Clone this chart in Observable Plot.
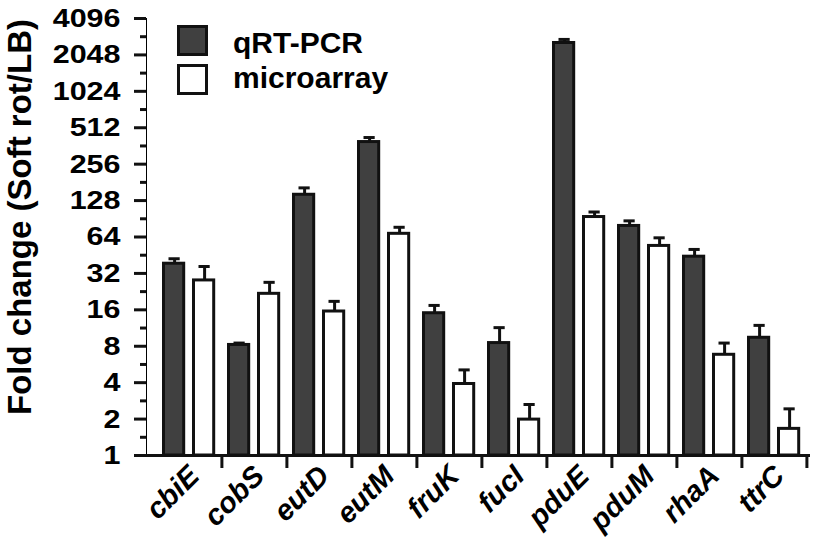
<!DOCTYPE html>
<html>
<head>
<meta charset="utf-8">
<script src="https://cdn.jsdelivr.net/npm/d3@7"></script>
<script src="https://cdn.jsdelivr.net/npm/@observablehq/plot@0.6"></script>
<style>
  body { margin: 0; background: #fff; }
  #wrap { position: relative; width: 814px; height: 544px; font-family: "Liberation Sans", Arial, sans-serif; font-weight: bold; color: #000; }
  #chart svg [aria-label^="y-axis"] text { font-size: 26.5px; }
  #chart svg [aria-label^="y-axis"] line,
  #chart svg [aria-label^="y-axis"] path,
  #chart svg [aria-label^="x-axis"] line,
  #chart svg [aria-label^="x-axis"] path { stroke-width: 3px; stroke: #111; }
  .sw { position: absolute; left: 177px; width: 25px; height: 25px; border: 3px solid #111; }
  .lt { position: absolute; left: 233px; font-size: 30px; line-height: 30px; white-space: nowrap; }
</style>
</head>
<body>
<div id="wrap">
  <div id="chart"></div>
  <div id="legend"></div>
</div>
<script>
// ---- data ----
const genes = ["cbiE", "cobS", "eutD", "eutM", "fruK", "fucI", "pduE", "pduM", "rhaA", "ttrC"];
const seriesNames = ["qRT-PCR", "microarray"];
const qrtValues = [38.5, 8.2, 143, 390, 15, 8.5, 2570, 79, 44, 9.4];
const qrtErrors = [3.8, 0.3, 20, 35, 2.4, 2.9, 180, 8, 6.5, 2.5];
const microValues = [28, 21.7, 15.5, 68, 3.9, 1.98, 93.6, 54, 6.8, 1.66];
const microErrors = [8.5, 5.3, 3.3, 9, 1.2, 0.66, 9.4, 9, 1.7, 0.77];
const yTicks = [1, 2, 4, 8, 16, 32, 64, 128, 256, 512, 1024, 2048, 4096];
const yTitle = "Fold change (Soft rot/LB)";

// ---- table ----
const table = genes.map((g, i) => ({
  gene: g,
  qrt: qrtValues[i], qrtHi: qrtValues[i] + qrtErrors[i],
  micro: microValues[i], microHi: microValues[i] + microErrors[i]
}));
const minorTicks = yTicks.slice(1).map(t => t / Math.SQRT2);

const W = 814, H = 544, ML = 146, MR = 4, MT = 18, MB = 89;
const X0 = 152, X1 = 810;
const step = (X1 - X0) / genes.length;
const dark = "#404040", ink = "#111";

const plot = Plot.plot({
  width: W, height: H,
  marginLeft: ML, marginRight: MR, marginTop: MT, marginBottom: MB,
  style: { fontFamily: "'Liberation Sans', Arial, sans-serif", fontWeight: "bold", fontSize: "28px", color: "#000", background: "transparent" },
  x: { type: "band", domain: genes, range: [X0, X1], padding: 0, tickSize: 13, tickFormat: () => "", label: null },
  y: { type: "log", base: 2, domain: [1, 4096], ticks: yTicks, tickSize: 12, tickPadding: 14, tickFormat: d => String(d), label: null, line: true },
  marks: [
    Plot.ruleY(minorTicks, { y: d => d, insetLeft: -6, insetRight: W - MR - ML, stroke: ink, strokeWidth: 3 }),
    // error bars
    Plot.ruleX(table, { x: "gene", y1: "qrt", y2: "qrtHi", dx: 18.5 - step / 2, stroke: ink, strokeWidth: 3 }),
    Plot.tickY(table, { x: "gene", y: "qrtHi", insetLeft: 12.5, insetRight: step - 24.5, stroke: ink, strokeWidth: 3 }),
    Plot.ruleX(table, { x: "gene", y1: "micro", y2: "microHi", dx: 48.5 - step / 2, stroke: ink, strokeWidth: 3 }),
    Plot.tickY(table, { x: "gene", y: "microHi", insetLeft: 42.5, insetRight: step - 54.5, stroke: ink, strokeWidth: 3 }),
    // bars
    Plot.barY(table, { x: "gene", y1: 1, y2: "qrt", fill: dark, stroke: ink, strokeWidth: 3, insetLeft: 7.5, insetRight: step - 28.5 }),
    Plot.barY(table, { x: "gene", y1: 1, y2: "micro", fill: "#fff", stroke: ink, strokeWidth: 3, insetLeft: 37.5, insetRight: step - 58.5 }),
    // x axis line
    Plot.ruleY([1], { stroke: ink, strokeWidth: 3 }),
    // gene labels
    Plot.text(genes, { x: d => d, text: d => d, frameAnchor: "bottom", rotate: -45, textAnchor: "end", dx: 12, dy: 22, fontStyle: "italic", fontWeight: "bold", fontSize: 29, fill: "#000" }),
    // y title
    Plot.text([yTitle], { text: d => d, frameAnchor: "left", textAnchor: "middle", rotate: -90, dx: -126, dy: -20, fontSize: 33, fontWeight: "bold", fill: "#000" })
  ]
});
document.getElementById("chart").appendChild(plot);

// move x-axis ticks to the category boundaries
d3.select(plot).selectAll('[aria-label^="x-axis"] line, [aria-label^="x-axis"] path').each(function () {
  const t = this.getAttribute("transform") || "";
  this.setAttribute("transform", `translate(${step / 2},0) ${t}`);
});

// widen y tick labels horizontally (anchored at their right end)
d3.select(plot).selectAll('[aria-label^="y-axis"] text').each(function () {
  const x = +(this.getAttribute("x") || 0);
  const t = this.getAttribute("transform") || "";
  this.setAttribute("x", 0);
  this.setAttribute("transform", `${t} translate(${x},0) scale(1.15,1)`);
});

// legend
const legend = document.getElementById("legend");
const fills = [dark, "#fff"];
seriesNames.forEach((name, i) => {
  const sw = document.createElement("div");
  sw.className = "sw";
  sw.style.top = (25 + i * 39) + "px";
  sw.style.background = fills[i];
  legend.appendChild(sw);
  const lt = document.createElement("div");
  lt.className = "lt";
  lt.style.top = (27.5 + i * 35) + "px";
  lt.textContent = name;
  legend.appendChild(lt);
});
</script>
</body>
</html>
